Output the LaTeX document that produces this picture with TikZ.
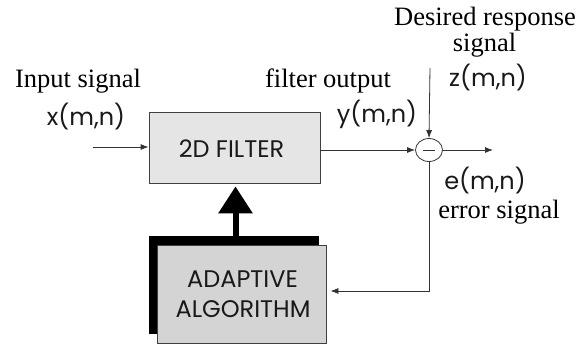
\documentclass[tikz,border=0pt]{standalone}
\usepackage{fontspec}
\setmainfont{Liberation Serif}
\newfontfamily\agfont{Poppins}
\usetikzlibrary{arrows.meta,shapes.geometric}
\begin{document}
\begin{tikzpicture}[x=1pt,y=-1pt,
  serif/.style={font=\fontsize{26.5}{30}\selectfont, inner sep=0pt, anchor=base},
  sans/.style={font=\agfont\fontsize{24}{28}\selectfont, inner sep=0pt, anchor=base, text=black!90},
  wire/.style={draw=black!80, line width=0.8pt},
  arr/.style={wire,-{Latex[length=8pt,width=6pt]}},
  block/.style={draw=black!75, line width=0.8pt, inner sep=0pt},
]
\useasboundingbox (0,0) rectangle (587,349);
% blocks
\node[block, fill=black!10, minimum width=171pt, minimum height=71pt] (filt) at (234.5,147.5) {};
\node[fill=black, inner sep=0pt, minimum width=170pt, minimum height=98pt] (shad) at (234,285) {};
\node[block, fill=black!17, minimum width=169pt, minimum height=98pt] (alg) at (241.5,294) {};
\node[draw=black!80, line width=0.8pt, ellipse, inner sep=0pt, minimum width=27pt, minimum height=23pt] (sum) at (429,150) {};
\draw[black!80, line width=0.8pt] ([xshift=-6pt]sum.center) -- ([xshift=6pt]sum.center);
% texts
\node[sans] (tf) at (231.5,157) {2D FILTER};
\node[sans] (ta1) at (242.5,287) {ADAPTIVE};
\node[sans] (ta2) at (243,317) {ALGORITHM};
\node[sans] (tx) at (86,125) {x(m,n)};
\node[sans] (ty) at (377,122) {y(m,n)};
\node[sans] (tz) at (488,86) {z(m,n)};
\node[sans] (te) at (485,189) {e(m,n)};
\node[serif] (tin) at (78,87) {Input signal};
\node[serif] (tfo) at (328,87) {filter output};
\node[serif] (td1) at (485,25) {Desired response};
\node[serif] (td2) at (484.5,51) {signal};
\node[serif] (ter) at (499,218) {error signal};
% connectors
\coordinate (inp) at (93,147);
\coordinate (zin) at (430,68);
\coordinate (out) at (493,150);
\draw[arr] (inp) -- (inp -| filt.west);
\draw[arr] (sum.west -| filt.east) -- (sum.west);
\draw[arr] (zin) -- (sum.north);
\draw[arr] (sum.east) -- (out);
\draw[arr, shorten >=4pt] (sum.south) |- ([yshift=3pt]alg.east);
\draw[line width=6pt, -{Triangle[length=27pt,width=33pt]}, shorten >=3pt] ([xshift=1.5pt]shad.north) -- ([xshift=1pt]filt.south);
\end{tikzpicture}
\end{document}
